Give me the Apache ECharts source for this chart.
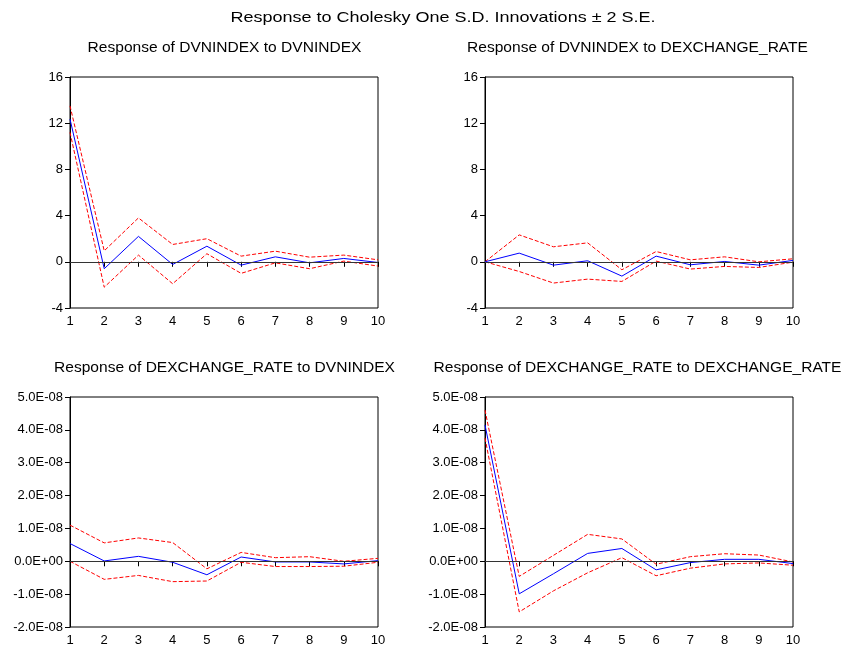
<!DOCTYPE html>
<html><head><meta charset="utf-8">
<script src="https://cdn.jsdelivr.net/npm/echarts@6/dist/echarts.min.js"></script>
<style>html,body{margin:0;padding:0;background:#fff}#c{width:845px;height:648px}</style>
</head><body><div id="c"></div>
<script>
const periods = ['1','2','3','4','5','6','7','8','9','10'];

const mainTitle = 'Response to Cholesky One S.D. Innovations \u00b1 2 S.E.';
const panelTitles = [
  'Response of DVNINDEX to DVNINDEX',
  'Response of DVNINDEX to DEXCHANGE_RATE',
  'Response of DEXCHANGE_RATE to DVNINDEX',
  'Response of DEXCHANGE_RATE to DEXCHANGE_RATE'
];

// Panel 1: DVNINDEX to DVNINDEX
const p1Resp  = [12.36, -0.6, 2.2, -0.23, 1.35, -0.29, 0.43, -0.09, 0.29, -0.06];
const p1Upper = [13.5, 0.95, 3.8, 1.5, 2.0, 0.49, 0.92, 0.4, 0.58, 0.17];
const p1Lower = [11.2, -2.2, 0.58, -1.9, 0.7, -1.0, -0.09, -0.6, 0.06, -0.37];

// Panel 2: DVNINDEX to DEXCHANGE_RATE
const p2Resp  = [0, 0.75, -0.29, 0.09, -1.24, 0.49, -0.26, 0.03, -0.29, 0.12];
const p2Upper = [0, 2.33, 1.3, 1.64, -0.69, 0.89, 0.17, 0.43, 0.0, 0.26];
const p2Lower = [0, -0.84, -1.84, -1.5, -1.7, 0.06, -0.63, -0.4, -0.49, -0.03];

// Panel 3: DEXCHANGE_RATE to DVNINDEX
const p3Resp  = [0.54e-8, 0.01e-8, 0.15e-8, -0.03e-8, -0.41e-8, 0.13e-8, -0.02e-8, -0.02e-8, -0.08e-8, 0.02e-8];
const p3Upper = [1.1e-8, 0.56e-8, 0.71e-8, 0.57e-8, -0.23e-8, 0.27e-8, 0.11e-8, 0.14e-8, 0.0, 0.09e-8];
const p3Lower = [0.0, -0.55e-8, -0.43e-8, -0.62e-8, -0.6e-8, -0.03e-8, -0.16e-8, -0.16e-8, -0.15e-8, -0.03e-8];

// Panel 4: DEXCHANGE_RATE to DEXCHANGE_RATE
const p4Resp  = [4.15e-8, -0.99e-8, -0.38e-8, 0.24e-8, 0.39e-8, -0.26e-8, -0.04e-8, 0.06e-8, 0.06e-8, -0.07e-8];
const p4Upper = [4.6e-8, -0.46e-8, 0.18e-8, 0.82e-8, 0.68e-8, -0.09e-8, 0.14e-8, 0.23e-8, 0.19e-8, -0.02e-8];
const p4Lower = [3.75e-8, -1.54e-8, -0.9e-8, -0.35e-8, 0.11e-8, -0.44e-8, -0.21e-8, -0.08e-8, -0.05e-8, -0.12e-8];

const topTicks = {min: -4, max: 16, interval: 4};
const botTicks = {min: -2e-8, max: 5e-8, interval: 1e-8};

function sciLabel(v) {
  const m = Math.round(v / 1e-9) / 10;
  if (m === 0) return '0.0E+00';
  return m.toFixed(1) + 'E-08';
}

const FONT = '"Liberation Sans", Arial, sans-serif';
const grids = [
  {left: 70, width: 308, top: 77, height: 231},
  {left: 485, width: 308, top: 77, height: 231},
  {left: 70, width: 308, top: 397, height: 230},
  {left: 485, width: 308, top: 397, height: 230}
];
const data = [
  [p1Resp, p1Upper, p1Lower],
  [p2Resp, p2Upper, p2Lower],
  [p3Resp, p3Upper, p3Lower],
  [p4Resp, p4Upper, p4Lower]
];

function label(text, x, y, size, sx) {
  return {type: 'text', x: x, y: y, scaleX: sx, silent: true,
    style: {text: text, font: size + 'px ' + FONT, fill: '#000',
      textAlign: 'center', textVerticalAlign: 'middle'}};
}

const option = {
  animation: false,
  backgroundColor: '#fff',
  graphic: [
    label(mainTitle, 443, 18, 15, 1.2),
    label(panelTitles[0], 224.5, 48, 14, 1.11),
    label(panelTitles[1], 637.5, 48, 14, 1.11),
    label(panelTitles[2], 224.5, 368, 14, 1.11),
    label(panelTitles[3], 637.5, 368, 14, 1.11)
  ],
  grid: grids.map(g => Object.assign({show: true, borderColor: '#000', borderWidth: 1, backgroundColor: 'transparent'}, g)),
  xAxis: grids.map((g, i) => ({
    type: 'category', gridIndex: i, data: periods, boundaryGap: false,
    axisLine: {show: true, lineStyle: {color: '#000', width: 1}},
    axisTick: {show: true, alignWithLabel: true, length: 5, lineStyle: {color: '#000'}},
    axisLabel: {color: '#000', fontFamily: FONT, fontSize: 13, margin: 7, interval: 0},
    splitLine: {show: false}
  })),
  yAxis: grids.map((g, i) => {
    const t = i < 2 ? topTicks : botTicks;
    return {
      type: 'value', gridIndex: i, min: t.min, max: t.max, interval: t.interval,
      axisLine: {show: true, lineStyle: {color: '#000', width: 1}},
      axisTick: {show: true, length: 5, lineStyle: {color: '#000'}},
      axisLabel: {color: '#000', fontFamily: FONT, fontSize: 13, margin: 7,
        formatter: i < 2 ? (v => String(Math.round(v))) : sciLabel},
      splitLine: {show: false}
    };
  }),
  series: []
};

data.forEach((d, i) => {
  option.series.push({
    type: 'line', xAxisIndex: i, yAxisIndex: i, data: d[0], symbol: 'none',
    lineStyle: {color: '#0000ff', width: 1}, z: 3,
    markLine: {silent: true, symbol: 'none', label: {show: false},
      lineStyle: {color: '#333', width: 1, type: 'solid'}, data: [{yAxis: 0}]}
  });
  option.series.push({
    type: 'line', xAxisIndex: i, yAxisIndex: i, data: d[1], symbol: 'none',
    lineStyle: {color: '#ff0000', width: 1, type: [4, 2]}, z: 2
  });
  option.series.push({
    type: 'line', xAxisIndex: i, yAxisIndex: i, data: d[2], symbol: 'none',
    lineStyle: {color: '#ff0000', width: 1, type: [4, 2]}, z: 2
  });
});

const chart = echarts.init(document.getElementById('c'), null, {renderer: 'canvas'});
chart.setOption(option);
</script>
</body></html>
